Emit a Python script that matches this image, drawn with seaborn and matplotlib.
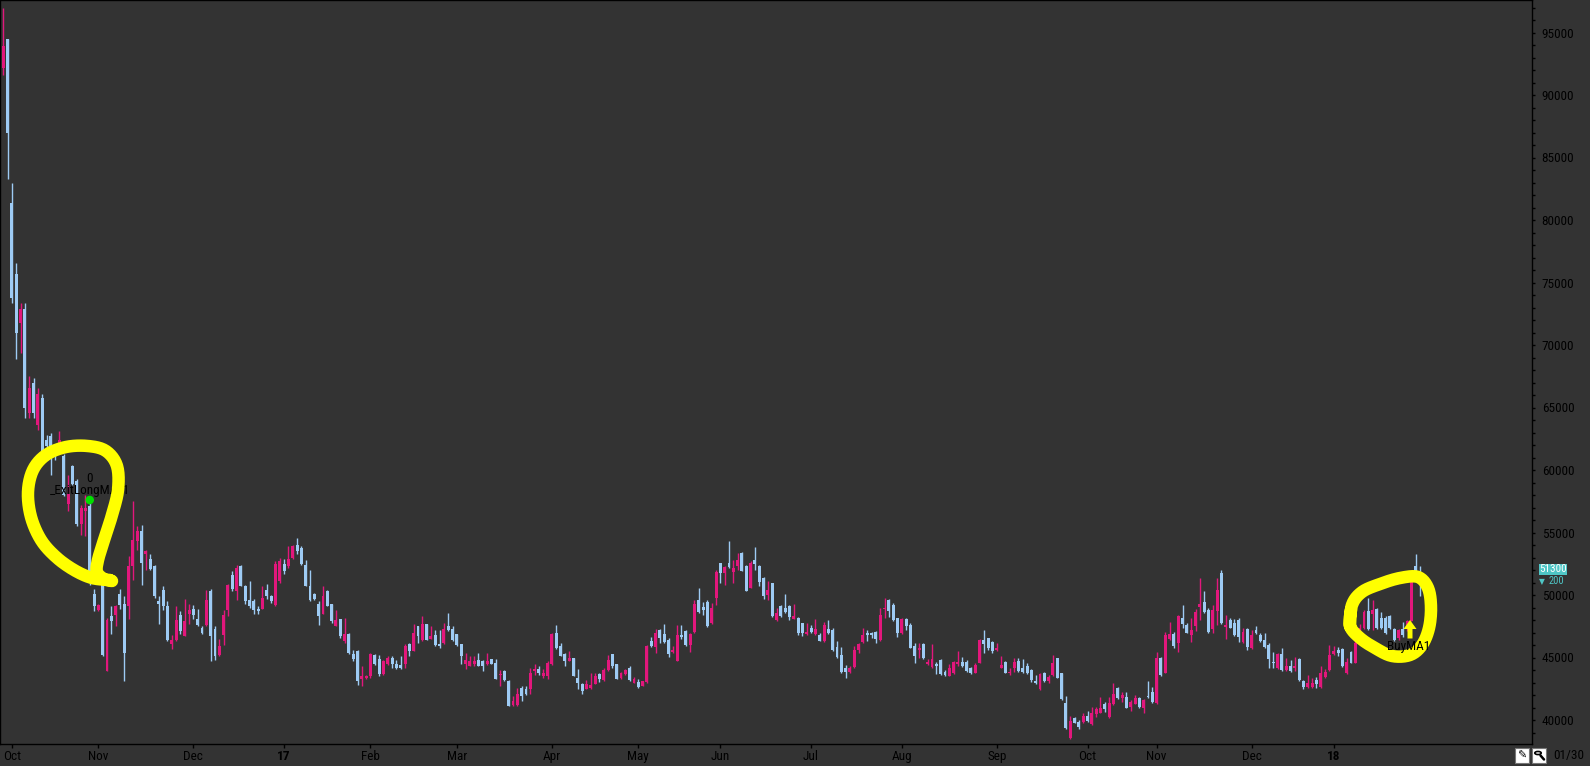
import numpy as np
import pandas as pd
import matplotlib
matplotlib.use("Agg")
import matplotlib.pyplot as plt
import seaborn as sns
from matplotlib import font_manager
from matplotlib.ticker import MultipleLocator
from matplotlib.patches import Rectangle, Polygon, Circle

# ---------------- data ----------------
month_labels = ["Oct", "Nov", "Dec", "17", "Feb", "Mar", "Apr", "May", "Jun",
                "Jul", "Aug", "Sep", "Oct", "Nov", "Dec", "18"]
# trading bars per month, first entry = last two September 2016 sessions
month_bar_counts = [2, 20, 22, 21, 20, 20, 22, 20, 19, 21, 21, 22, 21, 16, 22, 19, 21]

opens = [
    92200, 94500, 81400, 75700, 71800, 72900, 64600, 67000, 63600, 65800,
    62400, 62700, 61700, 62000, 61100, 57300, 60300, 59100, 55700, 56700,
    57100, 50100, 48800, 50800, 43900, 48300, 48400, 50100, 49300, 49100,
    52300, 54300, 55100, 53300, 52900, 52300, 49500, 50400, 49100, 46100,
    46400, 48400, 46700, 48500, 48900, 48100, 47400, 47600, 50300, 47300,
    45200, 46800, 48800, 51600, 50300, 52300, 50700, 49600, 49500, 48900,
    48900, 50400, 49900, 49200, 51100, 52500, 52300, 53000, 54000, 53800,
    52400, 50700, 50100, 49300, 48500, 50300, 49300, 47500, 48100, 46300,
    46900, 45300, 45500, 43300, 43400, 43500, 45200, 44900, 43700, 44500,
    45000, 44500, 44400, 44500, 46100, 45500, 47500, 46400, 47700, 46500,
    46800, 46100, 46200, 47500, 47300, 46900, 46100, 44500, 44300, 44500,
    44800, 44700, 44500, 44900, 44600, 43600, 43900, 43100, 41200, 41200,
    42600, 42500, 42500, 43950, 44100, 43500, 43500, 44500, 47000, 45900,
    45300, 44700, 45000, 43400, 42900, 42500, 42600, 42900, 43650, 43200,
    44000, 45250, 44500, 43350, 43700, 44200, 43000, 43050, 42750, 43050,
    46300, 45850, 47200, 46900, 46400, 45450, 44750, 46800, 47150, 46000,
    47050, 49600, 49050, 49450, 47800, 49800, 52550, 51750, 52600, 51850,
    52300, 53400, 52300, 50600, 52800, 52300, 51400, 50000, 50950, 48000,
    49150, 48950, 49100, 48050, 48200, 47750, 46900, 47350, 46900, 46800,
    46350, 47250, 47200, 45850, 45200, 44150, 43850, 44250, 45600, 46250,
    47000, 47000, 47050, 46400, 48850, 49600, 49200, 48150, 46950, 48100,
    47600, 45950, 45600, 46050, 44500, 44250, 44500, 44800, 43850, 43550,
    43750, 44500, 44650, 44650, 44200, 43800, 44600, 46400, 46550, 46250,
    45600, 44200, 44650, 43750, 44200, 44750, 44150, 44300, 44000, 43150,
    42450, 43800, 43150, 43600, 44950, 43750, 41400, 38550, 40200, 39850,
    39850, 40300, 39650, 40500, 40600, 41250, 40250, 41250, 42550, 41800,
    41850, 41050, 41300, 41750, 40950, 41950, 42250, 41350, 45000, 43800,
    46450, 46900, 46200, 48200, 47600, 46800, 47500, 49050, 49450, 48800,
    47250, 48750, 51750, 47450, 48000, 47750, 48000, 46250, 47250, 45750,
    47200, 46800, 46400, 46000, 44650, 44150, 45300, 44000, 44300, 44200,
    44900, 43150, 42650, 42650, 43200, 42650, 43450, 44000, 45300, 45600,
    45650, 43750, 45450, 44600, 46150, 47400, 48750, 48500, 48850, 48150,
    48200, 48300, 47300, 46550, 47250, 47250, 47950, 52300, 51700,
]
highs = [
    97000, 94500, 83000, 76600, 73400, 73400, 67500, 67400, 66600, 66100,
    62800, 63000, 62000, 63100, 61300, 59600, 60400, 59300, 57200, 58000,
    57600, 50500, 49300, 51000, 48200, 49100, 49200, 50500, 49900, 53100,
    57500, 55500, 55600, 53600, 53300, 52400, 49900, 50700, 49500, 46800,
    49100, 48700, 49700, 49300, 49200, 48900, 47500, 50400, 50500, 47500,
    46500, 48800, 50900, 51900, 52400, 52400, 50800, 51100, 49700, 49100,
    50700, 50900, 50000, 52700, 53000, 52900, 53900, 54000, 54600, 53900,
    52800, 52000, 50200, 49500, 50700, 50400, 49300, 48800, 48100, 48200,
    47000, 45600, 45600, 44300, 43600, 45400, 45300, 45200, 44800, 45100,
    45100, 44800, 45100, 46100, 46200, 47700, 47500, 48300, 47700, 47500,
    47200, 47200, 47800, 48600, 47500, 46900, 46100, 45400, 45100, 45100,
    45400, 44800, 45400, 44900, 44900, 44000, 44000, 43200, 41900, 42600,
    42700, 42700, 44200, 44500, 44300, 44100, 44700, 47000, 47600, 46200,
    45400, 45500, 45000, 44100, 43000, 43200, 43800, 43800, 43800, 44200,
    45200, 45300, 44500, 43850, 44100, 44300, 43450, 43300, 43100, 46000,
    46650, 47250, 47250, 47650, 46550, 45900, 47600, 47600, 47200, 46950,
    49600, 50550, 49450, 49600, 49350, 52000, 52600, 52300, 54300, 52800,
    53350, 53450, 52400, 52750, 53850, 52400, 51450, 51150, 51000, 49000,
    49200, 50100, 49200, 49300, 48250, 47800, 47750, 47600, 48100, 46950,
    47850, 48000, 47400, 46350, 45850, 44400, 44300, 45900, 46200, 47350,
    47200, 47050, 47150, 49000, 49800, 49650, 49350, 48200, 48200, 48200,
    47750, 46150, 46150, 46200, 44850, 46100, 44650, 44850, 44000, 44450,
    44700, 45500, 45050, 44800, 44250, 44600, 46450, 47200, 46600, 46300,
    46200, 45100, 44750, 44200, 45000, 45000, 44850, 44600, 44050, 43600,
    43750, 43850, 43600, 45200, 45000, 43800, 41900, 40300, 40250, 40000,
    40550, 40750, 41050, 41050, 41850, 41450, 41850, 42950, 42650, 42250,
    42250, 41600, 42000, 41850, 41650, 43150, 42650, 45450, 45050, 47050,
    47850, 47050, 48400, 49200, 47750, 48150, 48850, 51350, 50350, 48950,
    49200, 51400, 52000, 48400, 48150, 48050, 48150, 47350, 47400, 47200,
    47500, 46950, 46950, 46150, 45450, 45400, 45750, 44950, 44800, 45050,
    44950, 43200, 43600, 43350, 43450, 44350, 44050, 46000, 45900, 45850,
    45750, 44950, 45550, 46650, 47700, 48800, 49800, 49600, 48950, 48650,
    48300, 48400, 47400, 47300, 47850, 48000, 51400, 53300, 52300,
]
lows = [
    91600, 83300, 73400, 68900, 69400, 64200, 64200, 64200, 63200, 61000,
    61600, 59600, 60800, 61500, 57900, 56700, 58800, 55500, 54800, 54700,
    50800, 48700, 48700, 45100, 43900, 46900, 47500, 48900, 43100, 48100,
    51200, 53600, 50800, 52000, 52000, 49800, 47700, 48800, 46300, 45700,
    46300, 46900, 46700, 47700, 48100, 47500, 46900, 47500, 44700, 44800,
    45100, 46000, 48300, 50300, 49600, 50700, 49300, 49000, 48500, 48500,
    48900, 49700, 49400, 49100, 51000, 51700, 52200, 52900, 53300, 52400,
    50700, 49500, 49600, 47600, 48500, 49100, 47800, 47500, 46600, 46200,
    45300, 44700, 42800, 42700, 43300, 43400, 44400, 43500, 43600, 44400,
    44200, 44100, 44100, 44200, 45100, 45500, 46200, 46300, 46400, 46500,
    45950, 45800, 46100, 47100, 46300, 45950, 44500, 44100, 44300, 44300,
    44300, 43900, 44400, 44500, 43300, 42700, 43100, 41100, 41100, 41100,
    41500, 42000, 42100, 43600, 43600, 43400, 43300, 44400, 45700, 45100,
    44300, 44700, 43500, 42500, 42100, 42450, 42500, 42900, 43050, 43150,
    43950, 44200, 43250, 43250, 43600, 43100, 42950, 42600, 42700, 43000,
    45850, 45400, 46200, 46200, 45050, 45400, 44700, 46450, 45900, 45450,
    46950, 48600, 48400, 47450, 47700, 49200, 50950, 50800, 52200, 50950,
    52000, 51900, 50300, 50550, 52000, 50700, 49700, 49600, 48250, 47950,
    48250, 48600, 48000, 48050, 46800, 46700, 46800, 47000, 46800, 46300,
    46250, 46900, 45550, 44950, 43800, 43400, 43800, 44200, 45350, 46200,
    46350, 46600, 46150, 46350, 48200, 48250, 47950, 46650, 46900, 47200,
    45750, 44600, 45000, 44850, 44400, 44200, 43700, 43600, 43550, 43500,
    43700, 44300, 44250, 43850, 43700, 43750, 44550, 45350, 45600, 45350,
    45550, 44150, 43750, 43600, 43850, 43850, 43800, 43650, 43050, 42900,
    42400, 43050, 43000, 43500, 43350, 41600, 39300, 38500, 39750, 39300,
    39800, 39850, 39600, 40250, 40550, 40650, 40200, 41200, 41650, 41450,
    40950, 40750, 41250, 40950, 40600, 41800, 41400, 41300, 43550, 43750,
    46400, 45750, 45450, 47350, 46950, 46250, 47150, 48000, 48600, 47000,
    46950, 47600, 47700, 46450, 47350, 46700, 46250, 46200, 45600, 45650,
    46900, 46250, 45800, 44150, 44150, 44050, 43950, 43950, 43850, 43950,
    43150, 42450, 42600, 42600, 42550, 42600, 43400, 43950, 45200, 45100,
    44250, 43700, 44550, 44550, 46000, 47300, 47200, 47200, 47300, 47300,
    46900, 47300, 46300, 46400, 46650, 47100, 47900, 51200, 49900,
]
closes = [
    93900, 87000, 73800, 71000, 72900, 65000, 66600, 64600, 66100, 61400,
    61900, 61700, 61100, 62400, 58000, 58100, 58900, 55700, 57000, 57000,
    51300, 49100, 49200, 45200, 48000, 47900, 49100, 49200, 45400, 52300,
    54400, 55100, 52600, 53500, 52100, 49900, 49300, 49100, 46400, 46400,
    48000, 47100, 47900, 48800, 48400, 47600, 47000, 49600, 46700, 45100,
    45900, 48400, 50800, 50500, 52200, 50700, 49500, 49100, 48800, 48700,
    49800, 49900, 49500, 52500, 52700, 51900, 52900, 53900, 53500, 52500,
    50700, 49600, 49700, 48300, 49900, 49100, 47900, 48000, 46700, 46900,
    45400, 44900, 43100, 43500, 43500, 45300, 44500, 43700, 44700, 45000,
    44500, 44200, 44200, 45900, 45500, 47000, 46700, 47700, 46400, 46700,
    46000, 45900, 47300, 47200, 46400, 46000, 45100, 44800, 44700, 44700,
    44300, 44300, 44700, 44500, 43300, 43700, 43200, 41100, 41500, 42100,
    41900, 42100, 43800, 44050, 43800, 43800, 44600, 46900, 45800, 45100,
    44700, 45000, 43500, 43000, 42300, 42900, 42800, 43500, 43300, 44000,
    44800, 44300, 43250, 43800, 44000, 43200, 43250, 42650, 43100, 45950,
    45950, 46950, 46550, 46250, 45300, 45600, 46800, 46650, 46000, 46900,
    49300, 48650, 48800, 47500, 49000, 51850, 51800, 52250, 52250, 52150,
    52800, 51950, 50350, 52550, 52500, 51050, 49900, 50400, 48350, 48600,
    48300, 48650, 48250, 48300, 46950, 47000, 47050, 47050, 47250, 46350,
    47600, 47000, 45600, 45050, 43850, 43850, 44200, 45600, 46100, 46800,
    46800, 46800, 46450, 48400, 49000, 48750, 48000, 47000, 48100, 47500,
    45800, 45100, 45750, 44950, 44650, 44850, 44350, 43700, 43600, 44150,
    44650, 44650, 44350, 43950, 43800, 44400, 46400, 46100, 45750, 45550,
    45750, 44400, 43800, 43850, 44650, 43950, 43850, 43800, 43200, 42950,
    43700, 43150, 43450, 44600, 43400, 41650, 39350, 39900, 39800, 39450,
    40300, 39950, 40600, 40850, 41000, 40850, 41350, 42100, 41750, 42000,
    41000, 41450, 41800, 41050, 41600, 41850, 41450, 44950, 43600, 46800,
    46900, 45900, 48300, 47700, 47000, 47200, 48650, 49300, 48650, 47050,
    48800, 50400, 47750, 47600, 47400, 46800, 46650, 47050, 45850, 46800,
    47000, 46350, 45850, 44850, 44550, 45300, 44000, 44300, 43950, 44300,
    43200, 42650, 42950, 42950, 42900, 43750, 43850, 45200, 45550, 45350,
    44300, 44650, 44600, 46150, 47400, 48650, 47250, 48800, 47400, 47400,
    47000, 47400, 46400, 47200, 46800, 47900, 51100, 51500, 51300,
]

exit_bar = 20
buy_bar = 326
last_change = -200

# ---------------- style ----------------
BG = "#333333"
UP = "#E2177C"
DOWN = "#9ECBF4"
YELLOW = "#FFFF00"

sns.set_theme(style="dark", rc={
    "axes.facecolor": BG, "figure.facecolor": BG, "savefig.facecolor": BG,
    "axes.edgecolor": "black", "axes.linewidth": 1.0, "axes.grid": False,
})
avail = {f.name for f in font_manager.fontManager.ttflist}
main_font = "Liberation Sans"
for cand in ("Liberation Sans Narrow", "Arial Narrow", "Roboto Condensed",
             "Open Sans Condensed", "Liberation Sans"):
    if cand in avail:
        main_font = cand
        break
plt.rcParams["font.family"] = [main_font, "DejaVu Sans"]
FS = 9.5 if "Narrow" in main_font or "Condensed" in main_font else 8.5

df = pd.DataFrame({"open": opens, "high": highs, "low": lows, "close": closes})
df["x"] = np.arange(len(df))
df["up"] = df["close"] >= df["open"]
colors = np.where(df["up"], UP, DOWN)

W, H = 1590, 766
fig = plt.figure(figsize=(W / 100, H / 100), dpi=100)
ax = fig.add_axes([0.0, 22 / H, 1532 / W, 744 / H])

# wicks + bodies
ax.vlines(df["x"], df["low"], df["high"], colors=colors, linewidth=1.0, zorder=2)
body_bottom = np.minimum(df["open"], df["close"])
body_h = np.maximum((df["close"] - df["open"]).abs(), 70)
ax.bar(df["x"], body_h, bottom=body_bottom, width=0.68, color=colors,
       linewidth=0, zorder=3)

ax.set_xlim(-0.77, 353.9)
ax.set_ylim(38080, 97600)

# axes / ticks
starts = np.cumsum(month_bar_counts)[:-1]
ax.set_xticks(starts)
ax.set_xticklabels(month_labels)
for lab in ax.get_xticklabels():
    if lab.get_text() in ("17", "18"):
        lab.set_fontweight("bold")
ax.tick_params(axis="x", which="both", bottom=True, top=False, direction="out",
               length=3, width=1, color="black", labelcolor="black",
               labelsize=FS, pad=1.5)
ax.yaxis.tick_right()
yt = list(range(40000, 95001, 5000))
ax.set_yticks(yt)
ax.set_yticklabels([str(v) for v in yt])
ax.yaxis.set_minor_locator(MultipleLocator(1000))
ax.tick_params(axis="y", which="major", right=True, left=False, direction="out",
               length=2.5, width=1, color="black", labelcolor="black",
               labelsize=FS, pad=4.5)
ax.tick_params(axis="y", which="minor", right=True, left=False, direction="out",
               length=2.5, width=1, color="black")
for s in ax.spines.values():
    s.set_color("black")
    s.set_linewidth(1.0)
ax.grid(False)

# signal marks
sns.scatterplot(x=[exit_bar], y=[highs[exit_bar]], ax=ax, color="#00E000",
                s=38, edgecolor="none", zorder=5, legend=False)
ax.text(exit_bar, highs[exit_bar] + 1750, "0", color="black", fontsize=FS,
        ha="center", va="center", zorder=6)
ax.text(exit_bar, highs[exit_bar] + 750, "_ExitLongMA_1", color="black",
        fontsize=FS, ha="center", va="center", zorder=6)

# --- hand drawn yellow annotations (figure pixel space) ---
def catmull(pts, n=12):
    P = np.asarray(pts, float)
    P = np.vstack([P[0], P, P[-1]])
    out = []
    for i in range(1, len(P) - 2):
        p0, p1, p2, p3 = P[i - 1], P[i], P[i + 1], P[i + 2]
        for t in np.linspace(0, 1, n, endpoint=False):
            t2, t3 = t * t, t * t * t
            out.append(0.5 * (2 * p1 + (-p0 + p2) * t
                              + (2 * p0 - 5 * p1 + 4 * p2 - p3) * t2
                              + (-p0 + 3 * p1 - 3 * p2 + p3) * t3))
    out.append(P[-2])
    return np.array(out)

def px(xy):
    a = np.asarray(xy, float)
    return a[:, 0] / W, 1 - a[:, 1] / H

left_loop = [(110, 580), (92, 578), (74, 570), (56, 557), (41, 540), (31, 517),
             (28, 492), (33, 470), (46, 455), (66, 447), (88, 446), (106, 451),
             (117, 466), (118, 490), (112, 515), (104, 540), (98, 560),
             (97, 572), (104, 579), (112, 581)]
right_loop = [(1350, 626), (1352, 605), (1362, 592), (1380, 584), (1400, 578),
              (1418, 577), (1428, 588), (1431, 607), (1429, 628), (1422, 645),
              (1410, 655), (1392, 656), (1375, 648), (1360, 638), (1350, 626),
              (1351, 610)]
for loop in (left_loop, right_loop):
    xs, ys = px(catmull(loop))
    ax.plot(xs, ys, transform=fig.transFigure, color=YELLOW, lw=9,
            solid_capstyle="round", solid_joinstyle="round", zorder=8,
            clip_on=False)

arrow = [(1410, 620), (1403.5, 629), (1407.5, 629), (1407.5, 638.5),
         (1412.5, 638.5), (1412.5, 629), (1416.5, 629)]
ax_x, ax_y = px(arrow)
fig.patches.append(Polygon(np.column_stack([ax_x, ax_y]), closed=True,
                           transform=fig.transFigure, fc=YELLOW, ec="none",
                           zorder=9))
# buy label sits on top of the yellow stroke, as in the reference
ax.text(buy_bar - 0.6, lows[buy_bar] - 2000, "BuyMA1", color="black",
        fontsize=FS, ha="center", va="center", zorder=10)

# last price tag on right axis (kept just above the 50000 label)
TAG = 8
fig.text(1539 / W, 1 - 569.5 / H, f"{closes[-1]}", color="white", fontsize=TAG,
         ha="left", va="center",
         bbox=dict(boxstyle="square,pad=0.03", fc="#4FC6C6", ec="none"))
fig.text(1539 / W, 1 - 581.5 / H, "\u25bc", color="#4FC6C6", fontsize=5.5,
         ha="left", va="center", family=["DejaVu Sans"])
fig.text(1549 / W, 1 - 581.5 / H, f"{abs(last_change)}", color="#4FC6C6",
         fontsize=7.5, ha="left", va="center")

# bottom-right toolbar
for x0 in (1515, 1532):
    fig.patches.append(Rectangle((x0 / W, 1 - 763 / H), 14 / W, 15 / H,
                                 transform=fig.transFigure, fc="white",
                                 ec="#777777", lw=0.8, zorder=5))
fig.text(1522 / W, 1 - 755.5 / H, "\u270e", color="black", fontsize=8,
         ha="center", va="center", family=["DejaVu Sans"], zorder=6)
fig.patches.append(Circle((1538 / W, 1 - 753 / H), 3.2 / W,
                          transform=fig.transFigure, fc="none", ec="black",
                          lw=1.2, zorder=6))
fig.lines.append(plt.Line2D([1540.5 / W, 1544 / W], [1 - 755.5 / H, 1 - 759.5 / H],
                            transform=fig.transFigure, color="black", lw=1.8,
                            zorder=6))
fig.text(1553 / W, 1 - 756 / H, "01/30", color="black", fontsize=FS,
         ha="left", va="center")

fig.savefig("out.png", dpi=100, facecolor=BG)
